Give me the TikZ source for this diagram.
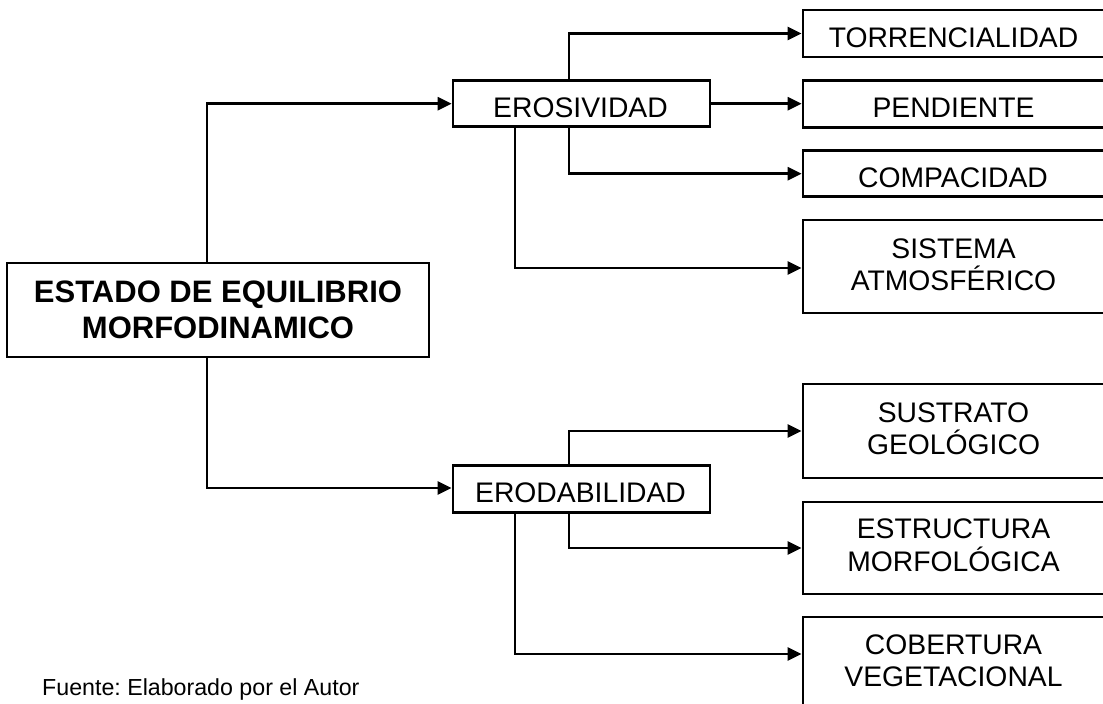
\documentclass[tikz,border=0pt]{standalone}
\usepackage{fontspec}
\setmainfont{Liberation Sans}
\usetikzlibrary{arrows.meta}
\frenchspacing
\tikzset{
  box/.style={draw, line width=2.7pt, rectangle, inner sep=0pt, minimum width=#1},
  txt/.style={inner sep=0pt, anchor=base, font=\fontsize{28.3}{32}\selectfont},
  bold/.style={inner sep=0pt, anchor=base, font=\fontsize{31}{35}\selectfont\bfseries},
  note/.style={inner sep=0pt, anchor=base west, font=\fontsize{23.2}{26}\selectfont},
  arr/.style={line width=2.7pt, -{Triangle[length=14pt,width=13pt]}},
}
\begin{document}
\begin{tikzpicture}[x=1pt,y=-1pt]
\useasboundingbox (0,0) rectangle (1103,704);
\clip (0,0) rectangle (1103,704);
% boxes
\node[box=422pt, minimum height=94pt] (main) at (218,310) {};
\node[box=257pt, minimum height=46pt] (ero) at (581.5,103.7) {};
\node[box=257pt, minimum height=46.6pt] (erd) at (581.5,489) {};
\node[box=312pt, minimum height=47pt] (tor) at (959,33.5) {};
\node[box=312pt, minimum height=47pt] (pen) at (959,104) {};
\node[box=312pt, minimum height=46pt] (com) at (959,173.7) {};
\node[box=312pt, minimum height=93pt] (sis) at (959,266.5) {};
\node[box=312pt, minimum height=94pt] (sus) at (959,431) {};
\node[box=312pt, minimum height=92pt] (est) at (959,548) {};
\node[box=312pt, minimum height=94pt] (cob) at (959,664) {};
% x positions of the vertical connectors
\coordinate (xA) at (207,0);
\coordinate (xB) at (569,0);
\coordinate (xC) at (515,0);
% connectors
\draw[arr] (main.north -| xA) |- (ero.west);
\draw[arr] (main.south -| xA) |- ([yshift=1pt]erd.west);
\draw[arr] (ero.north -| xB) |- (tor.west);
\draw[arr] (ero.east) -- (ero.east -| pen.west);
\draw[arr] (ero.south -| xB) |- (com.west);
\draw[arr] (ero.south -| xC) |- ([yshift=-1.5pt]sis.west);
\draw[arr] (erd.north -| xB) |- (sus.west);
\draw[arr] (erd.south -| xB) |- (est.west);
\draw[arr] (erd.south -| xC) |- ([yshift=10pt]cob.west);
% single-line texts (clipped at the baseline as in the reference)
\begin{scope}
\clip (453,80) rectangle (710,118.2);
\node[txt] (teros) at (580.5,117.7) {EROSIVIDAD};
\end{scope}
\begin{scope}
\clip (453,466) rectangle (710,503);
\node[txt] (terd) at (580.5,502.5) {ERODABILIDAD};
\end{scope}
\begin{scope}
\clip (803,10) rectangle (1103,47.3);
\node[txt] (ttor) at (953.5,47) {TORRENCIALIDAD};
\end{scope}
\node[txt] (tpen) at (953.5,117.3) {PENDIENTE};
\begin{scope}
\clip (803,151) rectangle (1103,188);
\node[txt] (tcom) at (953,187.7) {COMPACIDAD};
\end{scope}
% two-line texts
\node[txt] (tsis1) at (953.5,258) {SISTEMA};
\node[txt] (tsis2) at (953.5,290) {ATMOSFÉRICO};
\node[txt] (tsus1) at (953.5,422) {SUSTRATO};
\node[txt] (tsus2) at (953.5,454) {GEOLÓGICO};
\node[txt] (test1) at (953.5,538) {ESTRUCTURA};
\node[txt] (test2) at (953.5,571) {MORFOLÓGICA};
\node[txt] (tcob1) at (953.5,654) {COBERTURA};
\node[txt] (tcob2) at (953.5,686) {VEGETACIONAL};
% main box text
\node[bold] (tm1) at (218,302.7) {ESTADO DE EQUILIBRIO};
\node[bold] (tm2) at (218,338) {MORFODINAMICO};
% source note
\node[note] (fuente) at (42,695) {Fuente: Elaborado por el Autor};
\end{tikzpicture}
\end{document}
